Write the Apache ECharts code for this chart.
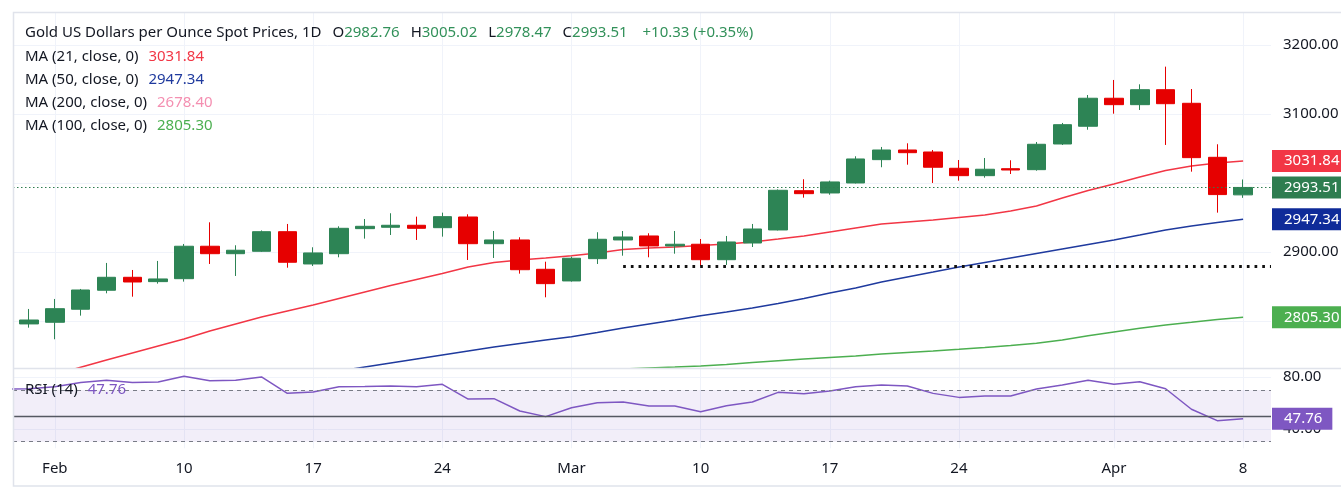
<!DOCTYPE html>
<html><head><meta charset="utf-8">
<script src="https://cdn.jsdelivr.net/npm/echarts@6/dist/echarts.min.js"></script>
<style>html,body{margin:0;padding:0;background:#fff;}#c{width:1341px;height:503px;}</style>
</head><body><div id="c"></div>
<script>
// ---------- DATA ----------
const dates = ['Jan 31','Feb 3','Feb 4','Feb 5','Feb 6','Feb 7','Feb 10','Feb 11','Feb 12','Feb 13','Feb 14',
  'Feb 17','Feb 18','Feb 19','Feb 20','Feb 21','Feb 24','Feb 25','Feb 26','Feb 27','Feb 28',
  'Mar 3','Mar 4','Mar 5','Mar 6','Mar 7','Mar 10','Mar 11','Mar 12','Mar 13','Mar 14',
  'Mar 17','Mar 18','Mar 19','Mar 20','Mar 21','Mar 24','Mar 25','Mar 26','Mar 27','Mar 28',
  'Mar 31','Apr 1','Apr 2','Apr 3','Apr 4','Apr 7','Apr 8'];
const opens = [2795.7,2798.1,2817.0,2844.5,2863.3,2857.0,2861.3,2908.3,2897.5,2901.0,2929.4,2882.6,2897.5,2933.8,2935.8,2938.7,2935.2,2950.7,2912.0,2917.4,2874.9,2858.0,2890.3,2917.4,2923.2,2908.7,2911.2,2888.8,2913.0,2931.9,2988.8,2985.5,3000.0,3033.8,3047.8,3044.9,3021.3,3010.6,3020.7,3019.3,3056.5,3082.2,3122.8,3113.5,3135.2,3115.5,3037.2,2982.76];
const closes = [2801.4,2817.8,2844.9,2863.3,2856.5,2860.9,2908.3,2897.5,2902.5,2929.4,2885.1,2898.6,2934.3,2937.2,2938.7,2934.3,2951.2,2912.0,2917.4,2874.3,2854.1,2890.9,2918.4,2921.7,2908.7,2911.2,2888.8,2914.5,2933.3,2989.4,2984.5,3001.5,3034.8,3047.8,3043.9,3022.8,3010.6,3019.9,3018.8,3056.1,3084.5,3122.8,3113.5,3135.2,3114.9,3036.7,2983.18,2993.51];
const highs = [2817.4,2831.9,2846.4,2884.1,2873.9,2887.0,2911.6,2943.0,2909.7,2931.2,2940.6,2906.8,2937.2,2947.8,2956.1,2951.2,2957.0,2954.6,2930.4,2921.3,2885.9,2893.2,2928.6,2930.4,2927.1,2930.4,2918.8,2923.2,2940.6,2990.6,3005.4,3003.3,3038.7,3052.2,3057.5,3047.8,3033.3,3036.2,3032.9,3059.4,3087.0,3127.5,3149.3,3143.0,3168.6,3136.2,3056.1,3005.02];
const lows = [2790.3,2773.5,2807.7,2840.1,2835.2,2854.1,2857.0,2882.6,2865.2,2900.0,2877.2,2879.7,2892.3,2919.3,2924.6,2917.4,2922.2,2888.4,2891.3,2868.6,2834.3,2857.0,2882.6,2894.6,2892.3,2897.5,2879.7,2881.2,2907.2,2931.2,2978.7,2983.0,2999.3,3022.8,3026.5,3000.0,3003.3,3007.7,3013.0,3017.8,3055.1,3077.2,3100.4,3105.8,3055.1,3016.4,2957.0,2978.47];
const ma21 = [2713.0,2722.3,2733.0,2743.5,2753.6,2763.8,2773.9,2785.5,2795.7,2805.8,2814.5,2823.2,2832.6,2842.0,2851.4,2860.1,2868.8,2878.3,2884.8,2888.4,2891.3,2894.6,2898.6,2903.6,2905.8,2907.2,2909.4,2911.6,2914.5,2918.8,2923.2,2929.0,2934.8,2940.6,2943.5,2946.4,2950.0,2953.6,2959.4,2966.7,2978.3,2989.1,2998.6,3008.7,3018.1,3024.6,3029.0,3031.84];
const ma50 = [2663.8,2668.8,2673.9,2679.7,2685.5,2689.9,2695.6,2701.4,2705.8,2711.6,2717.4,2721.7,2727.5,2733.3,2739.1,2744.9,2750.7,2756.5,2762.3,2767.4,2772.5,2777.2,2783.3,2789.9,2795.7,2801.4,2807.7,2813.0,2818.8,2825.4,2832.6,2840.6,2847.8,2856.5,2863.8,2871.0,2878.3,2884.8,2891.3,2897.8,2904.3,2910.9,2917.4,2924.6,2931.9,2937.7,2942.8,2947.34];
const ma100 = [null,null,null,null,null,null,null,null,null,null,null,null,null,null,null,null,null,null,null,null,2726.1,2727.5,2729.0,2730.4,2731.9,2733.3,2734.8,2736.9,2739.9,2742.5,2744.9,2747.1,2749.3,2752.2,2754.3,2756.5,2759.0,2761.6,2764.5,2767.7,2772.5,2778.7,2784.1,2789.4,2794.2,2798.1,2802.2,2805.30];
const ma200Last = 2678.40;
const rsiPrevDay = 70.6;
const rsi = [71.0,72.6,75.9,77.5,75.9,76.2,80.6,77.2,77.5,80.1,67.4,68.5,72.6,72.8,73.1,72.6,74.4,63.0,63.3,53.8,49.4,56.3,60.2,60.7,57.6,57.6,53.2,57.9,60.7,68.2,67.2,69.2,72.6,73.9,73.1,67.4,64.3,65.4,65.4,70.8,73.9,77.5,74.4,76.4,71.0,55.1,46.3,47.76];
const supportLevel = 2880;
const supportFrom = 'Mar 5';
const xTickDates = ['Feb 3','Feb 10','Feb 17','Feb 24','Mar 3','Mar 10','Mar 17','Mar 24','Apr 1','Apr 8'];
const xTickLabels = ['Feb','10','17','24','Mar','10','17','24','Apr','8'];
const priceTicks = [3200, 3100, 2900];
const rsiTicks = [80, 40];
const rsiLevels = [70, 50, 30];

// ---------- LAYOUT ----------
const FONT = "'Noto Sans', sans-serif";
const X_MIN = -0.62, X_MAX = 48.08;
const xTickIdx = xTickDates.map(d => dates.indexOf(d));
const n = dates.length;
const UP = '#2d8455', DOWN = '#e60000';
const C21 = '#f23645', C50 = '#1f3a9e', C100 = '#4caf50', C200 = '#f48fb1', CRSI = '#7e57c2', CTXT = '#131722', CVAL = '#32915a';

function xAxisDef(gi) {
  return {
    type: 'value', gridIndex: gi, min: X_MIN, max: X_MAX,
    axisLine: { show: false },
    axisTick: { show: false, customValues: xTickIdx },
    axisLabel: { show: gi === 1, customValues: xTickIdx, formatter: v => xTickLabels[xTickIdx.indexOf(v)] || '',
      color: CTXT, fontSize: 15, fontFamily: FONT, margin: 13 },
    splitLine: { show: true, lineStyle: { color: '#f0f3fa', width: 1 } }
  };
}
function boxLabel(bg) {
  return { show: true, position: 'end', distance: 1, formatter: p => Number(p.value).toFixed(2),
    backgroundColor: bg, color: '#fff', fontSize: 15, lineHeight: 18, fontFamily: FONT, padding: [2, 10, 2, 12] };
}
function lastLine(v, bg) {
  return { yAxis: v, lineStyle: { color: 'rgba(0,0,0,0)', width: 1 }, label: boxLabel(bg) };
}

const last = n - 1;
const chg = closes[last] - closes[last - 1];
const pct = chg / closes[last - 1] * 100;
const sg = v => (v >= 0 ? '+' : '') + v.toFixed(2);

const candleData = dates.map((d, i) => [i, opens[i], closes[i], lows[i], highs[i]]);
const lineData = arr => arr.map((v, i) => v == null ? null : [i, v]).filter(Boolean);
const rsiData = [[-1, rsiPrevDay]].concat(rsi.map((v, i) => [i, v]));

const chart = echarts.init(document.getElementById('c'), null, { renderer: 'canvas' });
const LF = 15;
const legendRich = {
  t: { fill: CTXT, fontSize: LF, fontFamily: FONT },
  o: { fill: CTXT, fontSize: LF, fontFamily: FONT, padding: [0, 0, 0, 11] },
  g: { fill: CVAL, fontSize: LF, fontFamily: FONT },
  r: { fill: C21, fontSize: LF, fontFamily: FONT, padding: [0, 0, 0, 10] },
  b: { fill: C50, fontSize: LF, fontFamily: FONT, padding: [0, 0, 0, 10] },
  p: { fill: C200, fontSize: LF, fontFamily: FONT, padding: [0, 0, 0, 10] },
  e: { fill: C100, fontSize: LF, fontFamily: FONT, padding: [0, 0, 0, 10] },
  v: { fill: CRSI, fontSize: LF, fontFamily: FONT, padding: [0, 0, 0, 10] }
};
function legendText(y, text) {
  return { type: 'text', silent: true, z: 100, style: { x: 25, y: y, text: text, rich: legendRich, fill: CTXT,
    font: LF + 'px ' + FONT, verticalAlign: 'middle', textVerticalAlign: 'middle' } };
}
const line0 = '{t|Gold US Dollars per Ounce Spot Prices, 1D}' +
  '{o|O}{g|' + opens[last].toFixed(2) + '}{o|H}{g|' + highs[last].toFixed(2) + '}' +
  '{o|L}{g|' + lows[last].toFixed(2) + '}{o|C}{g|' + closes[last].toFixed(2) + '}' +
  '{o| }{g|' + sg(chg) + ' (' + sg(pct) + '%)}';

const option = {
  animation: false,
  backgroundColor: '#ffffff',
  grid: [
    { left: 13, right: 70, top: 12, height: 356.3, containLabel: false, outerBoundsMode: 'none' },
    { left: 13, right: 70, top: 368.3, height: 80, containLabel: false, outerBoundsMode: 'none' }
  ],
  xAxis: [xAxisDef(0), xAxisDef(1)],
  yAxis: [
    { type: 'value', gridIndex: 0, position: 'right', min: 2731.4, max: 3247.8, scale: true,
      axisLine: { show: false }, axisTick: { show: false },
      axisLabel: { customValues: priceTicks, formatter: v => v.toFixed(2), color: CTXT, fontSize: 15, fontFamily: FONT, margin: 12 },
      splitLine: { show: true, lineStyle: { color: '#f0f3fa', width: 1 } } },
    { type: 'value', gridIndex: 1, position: 'right', min: 24.9, max: 86.8,
      axisLine: { show: false }, axisTick: { show: false, customValues: rsiTicks },
      axisLabel: { customValues: rsiTicks, formatter: v => v.toFixed(2), color: CTXT, fontSize: 15, fontFamily: FONT, margin: 12 },
      splitLine: { show: true, lineStyle: { color: '#f0f3fa', width: 1 } } }
  ],
  series: [
    { type: 'line', name: 'MA100', xAxisIndex: 0, yAxisIndex: 0, data: lineData(ma100), symbol: 'none',
      lineStyle: { color: C100, width: 1.5 }, z: 3, silent: true,
      markLine: { silent: true, symbol: ['none', 'none'], data: [lastLine(ma100[last], C100)] } },
    { type: 'line', name: 'MA50', xAxisIndex: 0, yAxisIndex: 0, data: lineData(ma50), symbol: 'none',
      lineStyle: { color: C50, width: 1.5 }, z: 3, silent: true,
      markLine: { silent: true, symbol: ['none', 'none'], data: [lastLine(ma50[last], '#0f2b99')] } },
    { type: 'line', name: 'MA21', xAxisIndex: 0, yAxisIndex: 0, data: lineData(ma21), symbol: 'none',
      lineStyle: { color: C21, width: 1.5 }, z: 3, silent: true,
      markLine: { silent: true, symbol: ['none', 'none'], data: [lastLine(ma21[last], C21)] } },
    { type: 'candlestick', name: 'Gold', xAxisIndex: 0, yAxisIndex: 0, data: candleData, barWidth: 19, clip: true, z: 4,
      itemStyle: { color: UP, color0: DOWN, borderColor: UP, borderColor0: DOWN, borderWidth: 1 },
      markLine: { silent: true, symbol: ['none', 'none'], data: [
        { yAxis: closes[last], lineStyle: { color: '#2e7d50', type: [1.5, 2.5], width: 1 }, label: boxLabel('#2e7d50') },
        [ { coord: [dates.indexOf(supportFrom), supportLevel], lineStyle: { color: '#111', width: 3, type: [2.7, 5], cap: 'butt' }, label: { show: false } },
          { coord: [X_MAX, supportLevel] } ]
      ] } },
    { type: 'line', name: 'RSI', xAxisIndex: 1, yAxisIndex: 1, data: rsiData, symbol: 'none',
      lineStyle: { color: CRSI, width: 1.5 }, z: 3, silent: true,
      markArea: { silent: true, itemStyle: { color: 'rgba(126,87,194,0.1)' }, data: [[{ yAxis: rsiLevels[2] }, { yAxis: rsiLevels[0] }]] },
      markLine: { silent: true, symbol: ['none', 'none'], data: [
        { yAxis: rsiLevels[0], lineStyle: { color: '#787b86', type: [4, 4], width: 1 }, label: { show: false } },
        { yAxis: rsiLevels[1], lineStyle: { color: '#555862', type: 'solid', width: 1.3 }, label: { show: false } },
        { yAxis: rsiLevels[2], lineStyle: { color: '#787b86', type: [4, 4], width: 1 }, label: { show: false } },
        lastLine(rsi[last], CRSI)
      ] } }
  ],
  graphic: [
    { type: 'rect', silent: true, z: 50, shape: { x: 13.5, y: 12.5, width: 1340, height: 473.5 }, style: { fill: 'none', stroke: '#e0e3eb', lineWidth: 1.5 } },
    { type: 'line', silent: true, z: 50, shape: { x1: 13, y1: 368.5, x2: 1341, y2: 368.5 }, style: { stroke: '#e0e3eb', lineWidth: 1.5 } },
    legendText(33, line0),
    legendText(56.5, '{t|MA (21, close, 0)}{r|' + ma21[last].toFixed(2) + '}'),
    legendText(79.5, '{t|MA (50, close, 0)}{b|' + ma50[last].toFixed(2) + '}'),
    legendText(102.5, '{t|MA (200, close, 0)}{p|' + ma200Last.toFixed(2) + '}'),
    legendText(125.5, '{t|MA (100, close, 0)}{e|' + ma100[last].toFixed(2) + '}'),
    legendText(390, '{t|RSI (14)}{v|' + rsi[last].toFixed(2) + '}')
  ]
};
chart.setOption(option);
</script>
</body></html>
